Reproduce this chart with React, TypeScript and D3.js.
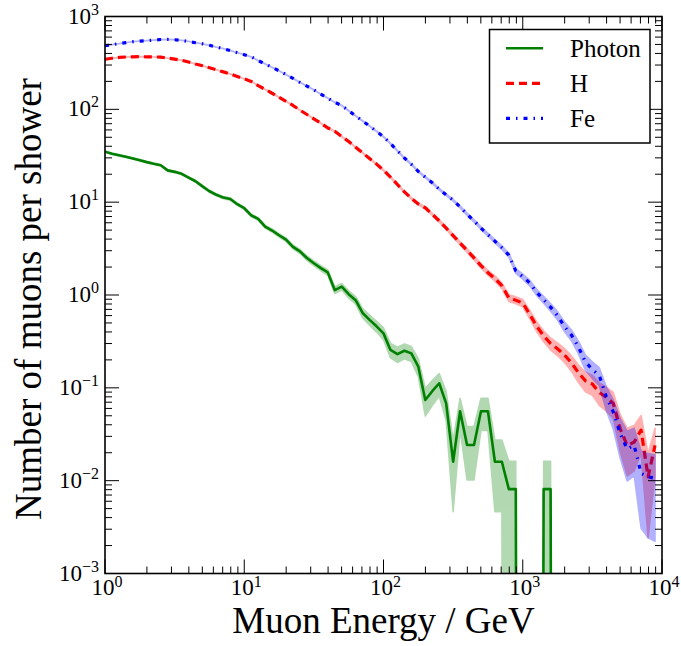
import React from 'react';
import * as d3 from 'd3';

// log10 of the muon energy (GeV) at each bin
const logEnergy = [
  0, 0.05, 0.1, 0.15, 0.2, 0.25, 0.3, 0.35, 0.4, 0.45,
  0.5, 0.55, 0.6, 0.65, 0.7, 0.75, 0.8, 0.85, 0.9, 0.95,
  1, 1.05, 1.1, 1.15, 1.2, 1.25, 1.3, 1.35, 1.4, 1.45,
  1.5, 1.55, 1.6, 1.65, 1.7, 1.75, 1.8, 1.85, 1.9, 1.95,
  2, 2.05, 2.1, 2.15, 2.2, 2.25, 2.3, 2.35, 2.4, 2.45,
  2.5, 2.55, 2.6, 2.65, 2.7, 2.75, 2.8, 2.85, 2.9, 2.95,
  3, 3.05, 3.1, 3.15, 3.2, 3.25, 3.3, 3.35, 3.4, 3.45,
  3.5, 3.55, 3.6, 3.65, 3.7, 3.75, 3.8, 3.85, 3.9, 3.95,
  4,
];

const photonValues = [
  35, 33.3, 32, 30.8, 29.6, 28.3, 27, 25.9, 25, 22,
  21.2, 20.2, 18.4, 16.8, 14.8, 13.1, 12.0, 11.2, 10.8, 9.5,
  8.6, 7.2, 6.6, 5.45, 4.95, 4.4, 3.95, 3.3, 2.95, 2.5,
  2.2, 1.95, 1.75, 1.13, 1.23, 1.02, 0.88, 0.64, 0.54, 0.46,
  0.386, 0.256, 0.231, 0.251, 0.235, 0.169, 0.074, 0.092, 0.112, 0.068,
  0.016, 0.056, 0.0242, 0.0242, 0.056, 0.056, 0.016, 0.016, 0.0081, 0.0081,
  0, 0, 0, 0.0081, 0.0081, 0,
];
const photonRelErr = [
  0.0152, 0.0156, 0.0159, 0.0162, 0.0165, 0.0169, 0.0173, 0.0177, 0.018, 0.0192,
  0.0195, 0.02, 0.0209, 0.0219, 0.0233, 0.0248, 0.0259, 0.0268, 0.0273, 0.0291,
  0.0306, 0.0335, 0.035, 0.0385, 0.0404, 0.0428, 0.0452, 0.0496, 0.0525, 0.057,
  0.0607, 0.0645, 0.0681, 0.0847, 0.0812, 0.0891, 0.096, 0.114, 0.124, 0.134,
  0.146, 0.179, 0.188, 0.18, 0.186, 0.219, 0.33, 0.3, 0.27, 0.345,
  0.71, 0.38, 0.58, 0.58, 0.38, 0.38, 0.71, 0.71, 1.0, 1.0,
  0, 0, 0, 1.0, 1.0, 0,
];

const hValues = [
  346, 355, 362, 366, 368, 369, 368, 367, 365, 356,
  347, 338, 323, 308, 295, 280, 266, 253, 240, 226,
  213, 200, 180, 164, 149, 135, 122, 110, 98, 88,
  79, 71, 63, 58, 51, 45, 39, 34, 29.5, 25.7,
  22.1, 18.6, 15.5, 12.9, 11.0, 9.55, 8.7, 7.4, 6.3, 5.25,
  4.37, 3.63, 3.02, 2.51, 2.07, 1.74, 1.51, 1.26, 0.93, 0.88,
  0.82, 0.62, 0.46, 0.363, 0.3, 0.263, 0.226, 0.186, 0.145, 0.119,
  0.11, 0.089, 0.079, 0.068, 0.036, 0.024, 0.026, 0.035, 0.011, 0.024,
];
const hRelErr = [
  0.0044, 0.0043, 0.0043, 0.0043, 0.0043, 0.0042, 0.0043, 0.0043, 0.0043, 0.0043,
  0.0044, 0.0044, 0.0045, 0.0047, 0.0048, 0.0049, 0.005, 0.0051, 0.0053, 0.0054,
  0.0056, 0.0058, 0.0061, 0.0064, 0.0067, 0.007, 0.0074, 0.0078, 0.0082, 0.0087,
  0.0092, 0.0097, 0.0103, 0.0107, 0.0114, 0.0122, 0.0131, 0.014, 0.015, 0.0161,
  0.0174, 0.0189, 0.0207, 0.0227, 0.0246, 0.0264, 0.0277, 0.03, 0.0325, 0.0356,
  0.039, 0.0429, 0.047, 0.0515, 0.0567, 0.062, 0.066, 0.073, 0.0847, 0.087,
  0.09, 0.104, 0.123, 0.136, 0.149, 0.159, 0.172, 0.189, 0.214, 0.237,
  0.246, 0.274, 0.29, 0.313, 0.43, 0.53, 0.51, 0.44, 0.78, 0.53,
];

const feValues = [
  484, 497, 510, 522, 535, 543, 549, 556, 565, 566,
  562, 553, 538, 522, 508, 490, 468, 450, 430, 408,
  388, 368, 335, 309, 283, 260, 237, 216, 195, 178,
  162, 146, 132, 119, 110, 96.6, 85, 75, 66, 58,
  50.7, 42.9, 35.8, 29.9, 25.6, 21.4, 18.6, 16.2, 13.8, 12.0,
  10.5, 8.9, 7.4, 6.3, 5.25, 4.47, 3.8, 3.24, 2.69, 1.82,
  1.58, 1.35, 1.07, 0.89, 0.74, 0.6, 0.457, 0.37, 0.275, 0.19,
  0.158, 0.135, 0.08, 0.055, 0.032, 0.022, 0.024, 0.012, 0.011, 0.0106,
];
const feRelErr = [
  0.0037, 0.0037, 0.0036, 0.0036, 0.0035, 0.0035, 0.0035, 0.0035, 0.0034, 0.0034,
  0.0034, 0.0035, 0.0035, 0.0036, 0.0036, 0.0037, 0.0038, 0.0038, 0.0039, 0.004,
  0.0041, 0.0043, 0.0045, 0.0046, 0.0049, 0.0051, 0.0053, 0.0056, 0.0058, 0.0061,
  0.0064, 0.0068, 0.0071, 0.0075, 0.0078, 0.0083, 0.0089, 0.0094, 0.01, 0.0107,
  0.0115, 0.0125, 0.0136, 0.0149, 0.0161, 0.0176, 0.0189, 0.0203, 0.022, 0.0236,
  0.0252, 0.0274, 0.03, 0.0325, 0.0356, 0.0386, 0.0419, 0.0454, 0.0498, 0.0605,
  0.065, 0.0703, 0.079, 0.0865, 0.095, 0.105, 0.121, 0.134, 0.156, 0.187,
  0.205, 0.222, 0.289, 0.348, 0.456, 0.55, 0.527, 0.745, 0.78, 0.79,
];

const seriesNames = ['Photon', 'H', 'Fe'];
const xDecades = [0, 1, 2, 3, 4];
const yDecades = [-3, -2, -1, 0, 1, 2, 3];
const xTitle = 'Muon Energy / GeV';
const yTitle = 'Number of muons per shower';

const FONT = 'Liberation Serif';

export default function App() {
  const W = 681;
  const H = 646;
  const L = 105, R = 662, T = 16.5, B = 573.5;
  const x = d3.scaleLog().domain([1, 1e4]).range([L, R]);
  const y = d3.scaleLog().domain([1e-3, 1e3]).range([B, T]);
  const FLOOR = 1e-30;
  const yc = (v: number) => y(Math.max(v, FLOOR));
  const xe = (i: number) => x(Math.pow(10, logEnergy[i]));

  const series = [
    { name: seriesNames[0], values: photonValues, err: photonRelErr, color: '#008000', width: 2.6, dash: '' },
    { name: seriesNames[1], values: hValues, err: hRelErr, color: '#ff0000', width: 3.2, dash: '8,5' },
    { name: seriesNames[2], values: feValues, err: feRelErr, color: '#0000ff', width: 3.2, dash: '4,6,1.5,6' },
  ];

  const line = d3.line<number>().x((_, i) => xe(i)).y((v) => yc(v));

  const makeArea = (err: number[]) =>
    d3.area<number>()
      .x((_, i) => xe(i))
      .y0((v, i) => yc(v * (1 - err[i])))
      .y1((v, i) => yc(v * (1 + err[i])));

  const xMajor = xDecades.map((d) => Math.pow(10, d));
  const xMinor: number[] = [];
  xDecades.slice(0, -1).forEach((d) => {
    for (let m = 2; m <= 9; m++) xMinor.push(m * Math.pow(10, d));
  });
  const yMajor = yDecades.map((d) => Math.pow(10, d));
  const yMinor: number[] = [];
  yDecades.slice(0, -1).forEach((d) => {
    for (let m = 2; m <= 9; m++) yMinor.push(m * Math.pow(10, d));
  });
  const MAJ = 14, MIN = 7;
  const expLabel = (d: number) => (d < 0 ? '\u2212' + Math.abs(d) : String(d));

  return (
    <div style={{ fontFamily: FONT }}>
      <svg width={W} height={H} fontFamily={FONT} style={{ position: 'absolute', left: 0, top: 0, background: '#fff', fontFamily: FONT }}>
        <rect x={0} y={0} width={W} height={H} fill="#fff" />
        <defs>
          <clipPath id="plotclip">
            <rect x={L} y={T} width={R - L} height={B - T} />
          </clipPath>
        </defs>
        <g clipPath="url(#plotclip)">
          {series.map((s) => (
            <g key={s.name}>
              <g opacity={0.3}>
                <path d={makeArea(s.err)(s.values) || ''} fill={s.color} stroke={s.color} strokeWidth={1.5} strokeLinejoin="round" />
              </g>
              <path d={line(s.values) || ''} fill="none" stroke={s.color} strokeWidth={s.width}
                strokeDasharray={s.dash || undefined} strokeLinejoin="round" />
            </g>
          ))}
        </g>

        <g stroke="#000" strokeWidth={1}>
          {xMajor.map((v) => (
            <g key={'xM' + v}>
              <line x1={x(v)} x2={x(v)} y1={B} y2={B - MAJ} />
              <line x1={x(v)} x2={x(v)} y1={T} y2={T + MAJ} />
            </g>
          ))}
          {xMinor.map((v) => (
            <g key={'xm' + v}>
              <line x1={x(v)} x2={x(v)} y1={B} y2={B - MIN} />
              <line x1={x(v)} x2={x(v)} y1={T} y2={T + MIN} />
            </g>
          ))}
          {yMajor.map((v) => (
            <g key={'yM' + v}>
              <line x1={L} x2={L + MAJ} y1={y(v)} y2={y(v)} />
              <line x1={R} x2={R - MAJ} y1={y(v)} y2={y(v)} />
            </g>
          ))}
          {yMinor.map((v) => (
            <g key={'ym' + v}>
              <line x1={L} x2={L + MIN} y1={y(v)} y2={y(v)} />
              <line x1={R} x2={R - MIN} y1={y(v)} y2={y(v)} />
            </g>
          ))}
        </g>
        <rect x={L} y={T} width={R - L} height={B - T} fill="none" stroke="#000" strokeWidth={1.6} />

        {xDecades.map((d) => (
          <text key={'xl' + d} x={x(Math.pow(10, d)) + 2} y={B + 21.5} textAnchor="middle" fontSize={23} fill="#000" fontFamily={FONT}>
            <tspan fontFamily={FONT}>10</tspan>
            <tspan dy={-8} fontSize={16} fontFamily={FONT}>{expLabel(d)}</tspan>
          </text>
        ))}
        {yDecades.map((d) => (
          <text key={'yl' + d} x={L - 6} y={y(Math.pow(10, d)) + 7} textAnchor="end" fontSize={23} fill="#000" fontFamily={FONT}>
            <tspan fontFamily={FONT}>10</tspan>
            <tspan dy={-9} fontSize={16} fontFamily={FONT}>{expLabel(d)}</tspan>
          </text>
        ))}

        <text x={(L + R) / 2} y={633} textAnchor="middle" fontSize={37} fill="#000" fontFamily={FONT}>{xTitle}</text>
        <text transform={`translate(41, 299) rotate(-90)`} textAnchor="middle" fontSize={37} fill="#000" fontFamily={FONT}>{yTitle}</text>

        <rect x={489.5} y={29.5} width={160.5} height={113.5} fill="#fff" stroke="#000" strokeWidth={1.5} />
        {series.map((s, i) => {
          const ly = 48.3 + i * 35;
          return (
            <g key={'lg' + s.name}>
              <line x1={506} x2={543} y1={ly} y2={ly} stroke={s.color} strokeWidth={s.width}
                strokeDasharray={s.dash || undefined} />
              <text x={570} y={ly + 8.5} fontSize={25} fill="#000" fontFamily={FONT}>{s.name}</text>
            </g>
          );
        })}
      </svg>
    </div>
  );
}
